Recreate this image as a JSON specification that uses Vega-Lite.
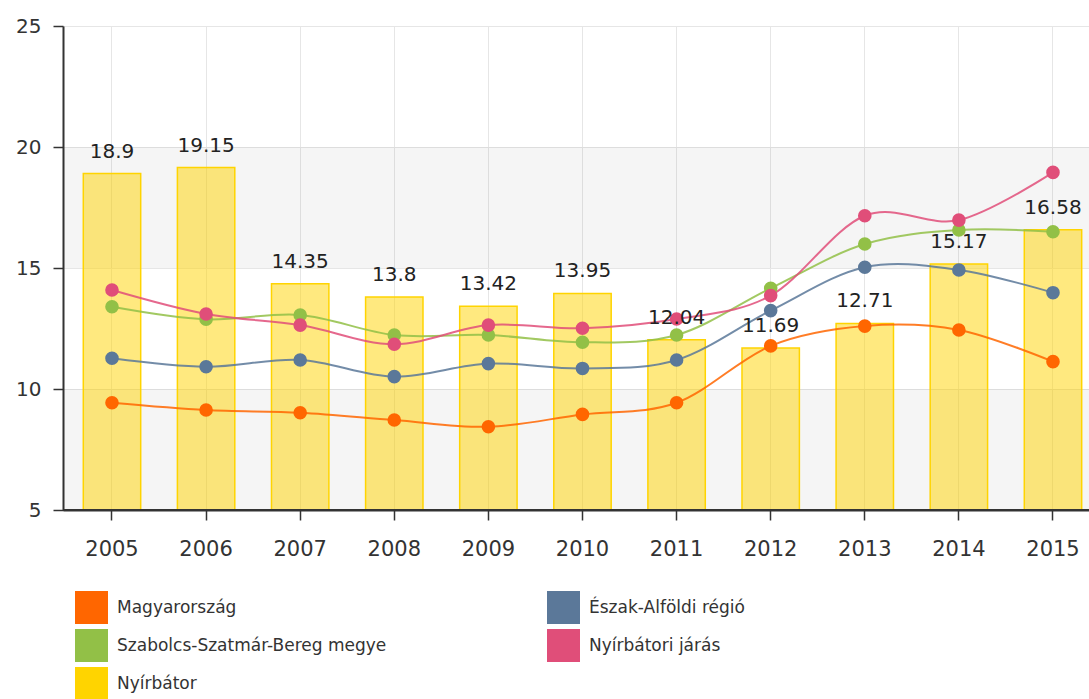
{
  "$schema": "https://vega.github.io/schema/vega-lite/v6.json",
  "autosize": {"type": "none"},
  "width": 1026,
  "height": 484,
  "padding": {"left": 63, "top": 26, "right": 0, "bottom": 189},
  "background": "white",
  "config": {
    "view": {"stroke": null},
    "font": "DejaVu Sans",
    "axis": {"labelFont": "DejaVu Sans", "labelColor": "#333333", "titleFont": "DejaVu Sans"}
  },
  "datasets": {
    "bands": [{"lo": 5, "hi": 10}, {"lo": 15, "hi": 20}],
    "main": [
      {"year": "2005", "series": "Nyírbátor", "value": 18.9},
      {"year": "2006", "series": "Nyírbátor", "value": 19.15},
      {"year": "2007", "series": "Nyírbátor", "value": 14.35},
      {"year": "2008", "series": "Nyírbátor", "value": 13.8},
      {"year": "2009", "series": "Nyírbátor", "value": 13.42},
      {"year": "2010", "series": "Nyírbátor", "value": 13.95},
      {"year": "2011", "series": "Nyírbátor", "value": 12.04},
      {"year": "2012", "series": "Nyírbátor", "value": 11.69},
      {"year": "2013", "series": "Nyírbátor", "value": 12.71},
      {"year": "2014", "series": "Nyírbátor", "value": 15.17},
      {"year": "2015", "series": "Nyírbátor", "value": 16.58},
      {"year": "2005", "series": "Magyarország", "value": 9.43},
      {"year": "2006", "series": "Magyarország", "value": 9.13},
      {"year": "2007", "series": "Magyarország", "value": 9.02},
      {"year": "2008", "series": "Magyarország", "value": 8.72},
      {"year": "2009", "series": "Magyarország", "value": 8.44},
      {"year": "2010", "series": "Magyarország", "value": 8.95},
      {"year": "2011", "series": "Magyarország", "value": 9.43},
      {"year": "2012", "series": "Magyarország", "value": 11.78},
      {"year": "2013", "series": "Magyarország", "value": 12.6},
      {"year": "2014", "series": "Magyarország", "value": 12.44},
      {"year": "2015", "series": "Magyarország", "value": 11.13},
      {"year": "2005", "series": "Észak-Alföldi régió", "value": 11.27},
      {"year": "2006", "series": "Észak-Alföldi régió", "value": 10.92},
      {"year": "2007", "series": "Észak-Alföldi régió", "value": 11.2},
      {"year": "2008", "series": "Észak-Alföldi régió", "value": 10.51},
      {"year": "2009", "series": "Észak-Alföldi régió", "value": 11.05},
      {"year": "2010", "series": "Észak-Alföldi régió", "value": 10.85},
      {"year": "2011", "series": "Észak-Alföldi régió", "value": 11.2},
      {"year": "2012", "series": "Észak-Alföldi régió", "value": 13.24},
      {"year": "2013", "series": "Észak-Alföldi régió", "value": 15.03},
      {"year": "2014", "series": "Észak-Alföldi régió", "value": 14.92},
      {"year": "2015", "series": "Észak-Alföldi régió", "value": 13.98},
      {"year": "2005", "series": "Szabolcs-Szatmár-Bereg megye", "value": 13.4},
      {"year": "2006", "series": "Szabolcs-Szatmár-Bereg megye", "value": 12.88},
      {"year": "2007", "series": "Szabolcs-Szatmár-Bereg megye", "value": 13.06},
      {"year": "2008", "series": "Szabolcs-Szatmár-Bereg megye", "value": 12.23},
      {"year": "2009", "series": "Szabolcs-Szatmár-Bereg megye", "value": 12.23},
      {"year": "2010", "series": "Szabolcs-Szatmár-Bereg megye", "value": 11.93},
      {"year": "2011", "series": "Szabolcs-Szatmár-Bereg megye", "value": 12.23},
      {"year": "2012", "series": "Szabolcs-Szatmár-Bereg megye", "value": 14.16},
      {"year": "2013", "series": "Szabolcs-Szatmár-Bereg megye", "value": 15.99},
      {"year": "2014", "series": "Szabolcs-Szatmár-Bereg megye", "value": 16.57},
      {"year": "2015", "series": "Szabolcs-Szatmár-Bereg megye", "value": 16.5},
      {"year": "2005", "series": "Nyírbátori járás", "value": 14.09},
      {"year": "2006", "series": "Nyírbátori járás", "value": 13.1},
      {"year": "2007", "series": "Nyírbátori járás", "value": 12.64},
      {"year": "2008", "series": "Nyírbátori járás", "value": 11.85},
      {"year": "2009", "series": "Nyírbátori járás", "value": 12.64},
      {"year": "2010", "series": "Nyírbátori járás", "value": 12.51},
      {"year": "2011", "series": "Nyírbátori járás", "value": 12.89},
      {"year": "2012", "series": "Nyírbátori járás", "value": 13.86},
      {"year": "2013", "series": "Nyírbátori járás", "value": 17.16},
      {"year": "2014", "series": "Nyírbátori járás", "value": 16.98},
      {"year": "2015", "series": "Nyírbátori járás", "value": 18.95}
    ]
  },
  "encoding": {
    "y": {
      "type": "quantitative",
      "scale": {"domain": [5, 25], "nice": false, "zero": false},
      "axis": {"title": null, "values": [5, 10, 15, 20, 25], "labelFontSize": 20, "labelPadding": 12, "tickSize": 10, "tickColor": "#333333", "tickWidth": 1.5, "domainColor": "#333333", "domainWidth": 2, "grid": true, "gridColor": "#e6e6e6", "zindex": 0}
    }
  },
  "layer": [
    {
      "data": {"name": "bands"},
      "mark": {"type": "rect", "fill": "#000000", "fillOpacity": 0.04},
      "encoding": {
        "y": {"field": "lo", "type": "quantitative"},
        "y2": {"field": "hi"}
      }
    },
    {
      "data": {"name": "main"},
      "encoding": {
        "x": {
          "field": "year", "type": "nominal",
          "scale": {"paddingInner": 0.39, "paddingOuter": 0.1467, "align": 0.735},
          "axis": {"title": null, "labelAngle": 0, "labelFontSize": 21, "labelPadding": 18, "tickSize": 10, "tickColor": "#333333", "tickWidth": 1.5, "domainColor": "#333333", "domainWidth": 2, "grid": true, "gridColor": "#e6e6e6", "bandPosition": 0.5, "zindex": 0}
        },
        "y": {"field": "value", "type": "quantitative"},
        "color": {
          "field": "series", "type": "nominal",
          "scale": {
            "domain": ["Magyarország", "Észak-Alföldi régió", "Szabolcs-Szatmár-Bereg megye", "Nyírbátori járás", "Nyírbátor"],
            "range": ["#ff6600", "#5b7899", "#92c047", "#e04e79", "#ffd400"]
          },
          "legend": {
            "title": null, "orient": "none", "legendX": 12, "legendY": 565, "columns": 2, "direction": "horizontal",
            "symbolType": "square", "symbolSize": 1089, "symbolOpacity": 1, "symbolStrokeWidth": 0,
            "labelFontSize": 17, "labelFont": "DejaVu Sans", "labelColor": "#333333", "labelOffset": 9, "rowPadding": 5, "columnPadding": 160, "labelLimit": 400
          }
        }
      },
      "layer": [
        {
          "transform": [{"filter": "datum.series === 'Nyírbátor'"}],
          "mark": {"type": "bar", "fillOpacity": 0.5, "stroke": "#ffd400", "strokeWidth": 1.5},
          "encoding": {
            "y2": {"datum": 5}
          }
        },
        {
          "transform": [{"filter": "datum.series !== 'Nyírbátor'"}],
          "mark": {"type": "line", "interpolate": "cardinal", "strokeWidth": 2, "opacity": 0.85}
        },
        {
          "transform": [{"filter": "datum.series !== 'Nyírbátor'"}],
          "mark": {"type": "point", "filled": true, "opacity": 1, "size": 185, "shape": "circle"}
        },
        {
          "transform": [{"filter": "datum.series === 'Nyírbátor'"}],
          "mark": {"type": "text", "baseline": "alphabetic", "dy": -16, "fontSize": 20, "color": "#222222", "font": "DejaVu Sans"},
          "encoding": {
            "text": {"field": "value", "type": "quantitative"},
            "color": {"value": "#222222"}
          }
        }
      ]
    },
    {
      "data": {"values": [{"base": 5}]},
      "mark": {"type": "rule", "color": "#333333", "strokeWidth": 2},
      "encoding": {
        "y": {"field": "base", "type": "quantitative"}
      }
    }
  ]
}
